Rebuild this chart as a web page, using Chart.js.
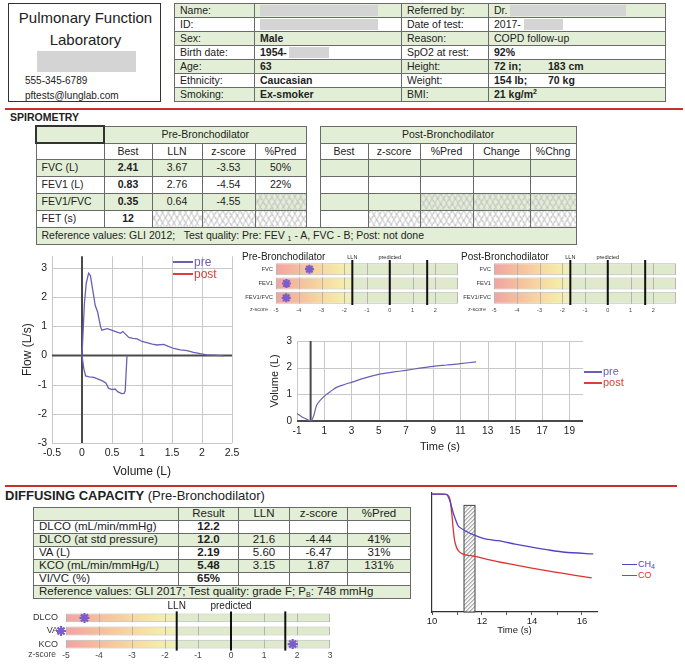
<!DOCTYPE html>
<html>
<head>
<meta charset="utf-8">
<title>Pulmonary Function Report</title>
<script src="https://cdn.jsdelivr.net/npm/chart.js@4.4.1/dist/chart.umd.min.js"></script>
<style>
  html, body { margin: 0; padding: 0; background: #fff; }
  body { font-family: 'Liberation Sans', Arial, sans-serif; color: #222; }
  #page { position: relative; width: 685px; height: 664px; overflow: hidden; }
  .abs { position: absolute; white-space: nowrap; }
  canvas { position: absolute; }
  table.t { position: absolute; border-collapse: collapse; table-layout: fixed; }
  table.t td { border: 1px solid #6a6a6a; padding: 0 0 0 5px; white-space: nowrap; overflow: hidden; line-height: 1; }
  table.t td.c { text-align: center; padding: 0; }
  table.t tr.g td { background-color: #e2efd6; }
  table.t td.gap { border: none; background-color: #fff !important; }
  table.t td.corner { border: 2px solid #333; }
  table.t td.x {
    background-image: repeating-linear-gradient(60deg, #c2c2c2 0 1px, transparent 1px 5px),
                      repeating-linear-gradient(-60deg, #c2c2c2 0 1px, transparent 1px 5px);
  }
  .blk { display: inline-block; height: 11px; background: #d4d4d4; vertical-align: middle; }
  sup { font-size: 7px; line-height: 0; vertical-align: 4px; }
  sub { font-size: 7px; line-height: 0; vertical-align: -2px; }
  .redline { position: absolute; height: 2px; background: #c8302c; }
  .leg div { display: flex; align-items: center; }
  .leg .ln { display: inline-block; height: 2px; margin-right: 1px; }
</style>
</head>
<body>
<div id="page">

  <!-- lab box -->
  <div class="abs" style="left:8px;top:3px;width:151px;height:97px;border:1.5px solid #333;"></div>
  <div class="abs" style="left:8px;width:155px;text-align:center;top:9px;font-size:15px;">Pulmonary Function</div>
  <div class="abs" style="left:8px;width:155px;text-align:center;top:31px;font-size:15px;">Laboratory</div>
  <div class="abs" style="left:37px;top:51px;width:99px;height:21px;background:#d4d4d4;"></div>
  <div class="abs" style="left:25px;top:75px;font-size:10px;">555-345-6789</div>
  <div class="abs" style="left:25px;top:90px;font-size:10px;">pftests@lunglab.com</div>

  <!-- patient table -->
  <table class="t" style="left:174px;top:3px;width:491px;font-size:10.5px;border:1.5px solid #333;">
    <colgroup><col style="width:80px"><col style="width:147px"><col style="width:87px"><col style="width:177px"></colgroup>
    <tr class="g" style="height:14px"><td>Name:</td><td><span class="blk" style="width:118px"></span></td><td>Referred by:</td><td>Dr. <span class="blk" style="width:116px"></span></td></tr>
    <tr style="height:14px"><td>ID:</td><td><span class="blk" style="width:118px"></span></td><td>Date of test:</td><td>2017-<span class="blk" style="width:39px;margin-left:3px"></span></td></tr>
    <tr class="g" style="height:14px"><td>Sex:</td><td><b>Male</b></td><td>Reason:</td><td>COPD follow-up</td></tr>
    <tr style="height:14px"><td>Birth date:</td><td><b>1954-</b><span class="blk" style="width:40px;margin-left:2px"></span></td><td>SpO2 at rest:</td><td><b>92%</b></td></tr>
    <tr class="g" style="height:14px"><td>Age:</td><td><b>63</b></td><td>Height:</td><td><b><span style="display:inline-block;width:54px">72 in;</span>183 cm</b></td></tr>
    <tr style="height:14px"><td>Ethnicity:</td><td><b>Caucasian</b></td><td>Weight:</td><td><b><span style="display:inline-block;width:54px">154 lb;</span>70 kg</b></td></tr>
    <tr class="g" style="height:14px"><td>Smoking:</td><td><b>Ex-smoker</b></td><td>BMI:</td><td><b>21 kg/m<sup>2</sup></b></td></tr>
  </table>

  <div class="redline" style="left:5px;top:108px;width:678px;"></div>

  <!-- spirometry -->
  <div class="abs" style="left:10px;top:111px;font-size:10.5px;font-weight:bold;">SPIROMETRY</div>
  <table class="t" style="left:35px;top:125px;width:540px;font-size:10.5px;">
    <colgroup><col style="width:68px"><col style="width:48px"><col style="width:50px"><col style="width:53px"><col style="width:51px"><col style="width:14px"><col style="width:48px"><col style="width:52px"><col style="width:53px"><col style="width:57px"><col style="width:46px"></colgroup>
    <tr class="g" style="height:17px"><td class="corner"></td><td class="c" colspan="4">Pre-Bronchodilator</td><td class="gap"></td><td class="c" colspan="5">Post-Bronchodilator</td></tr>
    <tr style="height:16px"><td></td><td class="c">Best</td><td class="c">LLN</td><td class="c">z-score</td><td class="c">%Pred</td><td class="gap"></td><td class="c">Best</td><td class="c">z-score</td><td class="c">%Pred</td><td class="c">Change</td><td class="c">%Chng</td></tr>
    <tr class="g" style="height:17px"><td>FVC (L)</td><td class="c"><b>2.41</b></td><td class="c">3.67</td><td class="c">-3.53</td><td class="c">50%</td><td class="gap"></td><td></td><td></td><td></td><td></td><td></td></tr>
    <tr style="height:17px"><td>FEV1 (L)</td><td class="c"><b>0.83</b></td><td class="c">2.76</td><td class="c">-4.54</td><td class="c">22%</td><td class="gap"></td><td></td><td></td><td></td><td></td><td></td></tr>
    <tr class="g" style="height:17px"><td>FEV1/FVC</td><td class="c"><b>0.35</b></td><td class="c">0.64</td><td class="c">-4.55</td><td class="x"></td><td class="gap"></td><td></td><td></td><td class="x"></td><td class="x"></td><td class="x"></td></tr>
    <tr style="height:17px"><td>FET (s)</td><td class="c"><b>12</b></td><td class="x"></td><td class="x"></td><td class="x"></td><td class="gap"></td><td></td><td class="x"></td><td class="x"></td><td class="x"></td><td class="x"></td></tr>
    <tr class="g" style="height:17px"><td colspan="11">Reference values: GLI 2012;&nbsp;&nbsp; Test quality: Pre: FEV <sub>1</sub> - A, FVC - B; Post: not done</td></tr>
  </table>

  <!-- flow-volume -->
  <canvas id="fvChart" width="280" height="240" style="left:0;top:245px;"></canvas>
  <div class="abs leg" style="left:173px;top:256px;font-size:12px;line-height:12px;">
    <div><span class="ln" style="width:20px;background:#6b5fb5"></span><span style="color:#6b5fb5">pre</span></div>
    <div><span class="ln" style="width:20px;background:#d9403a"></span><span style="color:#d9403a">post</span></div>
  </div>

  <!-- z-score bars, spirometry -->
  <div class="abs" style="left:242px;top:251px;font-size:10px;">Pre-Bronchodilator</div>
  <div class="abs" style="left:461px;top:251px;font-size:10px;">Post-Bronchodilator</div>
  <canvas id="zPre" width="225" height="70" style="left:240px;top:248px;"></canvas>
  <canvas id="zPost" width="225" height="70" style="left:458px;top:248px;"></canvas>

  <!-- volume-time -->
  <canvas id="vtChart" width="330" height="125" style="left:262px;top:330px;"></canvas>
  <div class="abs leg" style="left:584px;top:366px;font-size:11px;line-height:11px;">
    <div><span class="ln" style="width:18px;background:#6b5fb5"></span><span style="color:#6b5fb5">pre</span></div>
    <div><span class="ln" style="width:18px;background:#d9403a"></span><span style="color:#d9403a">post</span></div>
  </div>

  <div class="redline" style="left:5px;top:485px;width:672px;"></div>

  <!-- diffusing capacity -->
  <div class="abs" style="left:5px;top:488px;font-size:13px;"><b>DIFFUSING CAPACITY</b> (Pre-Bronchodilator)</div>
  <table class="t" style="left:33px;top:507px;width:377px;font-size:11.5px;border:1.5px solid #333;">
    <colgroup><col style="width:145px"><col style="width:60px"><col style="width:51px"><col style="width:58px"><col style="width:63px"></colgroup>
    <tr class="g" style="height:13px"><td></td><td class="c">Result</td><td class="c">LLN</td><td class="c">z-score</td><td class="c">%Pred</td></tr>
    <tr style="height:13px"><td>DLCO (mL/min/mmHg)</td><td class="c"><b>12.2</b></td><td></td><td></td><td></td></tr>
    <tr class="g" style="height:13px"><td>DLCO (at std pressure)</td><td class="c"><b>12.0</b></td><td class="c">21.6</td><td class="c">-4.44</td><td class="c">41%</td></tr>
    <tr style="height:13px"><td>VA (L)</td><td class="c"><b>2.19</b></td><td class="c">5.60</td><td class="c">-6.47</td><td class="c">31%</td></tr>
    <tr class="g" style="height:13px"><td>KCO (mL/min/mmHg/L)</td><td class="c"><b>5.48</b></td><td class="c">3.15</td><td class="c">1.87</td><td class="c">131%</td></tr>
    <tr style="height:13px"><td>VI/VC (%)</td><td class="c"><b>65%</b></td><td></td><td></td><td></td></tr>
    <tr class="g" style="height:13px"><td colspan="5">Reference values: GLI 2017; Test quality: grade F; P<sub>B</sub>: 748 mmHg</td></tr>
  </table>
  <canvas id="zDlco" width="345" height="66" style="left:0;top:598px;"></canvas>

  <!-- gas washout -->
  <canvas id="gasChart" width="185" height="148" style="left:420px;top:488px;"></canvas>
  <div class="abs leg" style="left:622px;top:559px;font-size:9px;line-height:11px;">
    <div><span class="ln" style="width:15px;height:1.5px;background:#4f45c2"></span><span style="color:#4f45c2">CH<sub>4</sub></span></div>
    <div><span class="ln" style="width:15px;height:1.5px;background:#dc3232"></span><span style="color:#dc3232">CO</span></div>
  </div>
</div>

<script>
// flow-volume loop, pre-bronchodilator
var expVolume = [0, 0.04, 0.07, 0.11, 0.14, 0.18, 0.22, 0.26, 0.31, 0.33, 0.42, 0.47, 0.56, 0.64, 0.68, 0.72, 0.78, 0.85, 0.92, 1.0, 1.08, 1.17, 1.25, 1.36, 1.44, 1.53, 1.64, 1.75, 1.86, 1.97, 2.08, 2.19, 2.36];
var expFlow   = [0, 1.78, 2.46, 2.82, 2.74, 2.23, 1.72, 1.49, 0.98, 0.87, 0.92, 0.89, 0.82, 0.76, 0.82, 0.74, 0.62, 0.59, 0.57, 0.48, 0.44, 0.39, 0.36, 0.38, 0.31, 0.24, 0.19, 0.17, 0.11, 0.06, 0.02, 0.01, -0.01];
var inspVolume = [0, 0.03, 0.06, 0.12, 0.2, 0.28, 0.35, 0.4, 0.44, 0.5, 0.55, 0.6, 0.66, 0.7, 0.72, 0.735, 0.75];
var inspFlow   = [0, -0.45, -0.7, -0.73, -0.75, -0.82, -0.88, -0.95, -1.12, -1.17, -1.15, -1.25, -1.31, -1.3, -1.22, -0.6, 0];

// volume-time, pre-bronchodilator
var vtTime   = [-1, -0.66, -0.29, -0.1, 0.05, 0.24, 0.44, 0.7, 1.05, 1.5, 1.9, 2.5, 3.05, 4, 5, 6, 7, 8, 9, 10, 11, 12.15];
var vtVolume = [0.28, 0.16, 0.07, 0.02, 0.0, 0.22, 0.59, 0.77, 0.95, 1.12, 1.26, 1.37, 1.46, 1.62, 1.75, 1.83, 1.9, 1.98, 2.05, 2.1, 2.15, 2.22];
var vtTicks  = [-1, 0, 1, 3, 5, 7, 9, 11, 13, 15, 17, 19];

// z-scores
var spiroLabels = ['FVC', 'FEV1', 'FEV1/FVC'];
var spiroZPre = [-3.53, -4.54, -4.55];
var spiroZPost = [];
var dlcoLabels = ['DLCO', 'VA', 'KCO'];
var dlcoZ = [-4.44, -6.47, 1.87];
var zRange = [-5, 3];
var refLines = [-1.645, 0, 1.645];
var refNames = ['LLN', 'predicted'];

// single-breath gas traces (fraction of inspired)
var ch4Time = [10, 10.3, 10.59, 10.72, 10.85, 11.05, 11.32, 11.72, 12.12, 12.65, 13.32, 13.99, 14.65, 15.32, 16.45];
var ch4Frac = [1.0, 1.0, 0.997, 0.94, 0.84, 0.73, 0.69, 0.65, 0.62, 0.605, 0.577, 0.55, 0.527, 0.507, 0.493];
var coTime  = [10, 10.3, 10.62, 10.72, 10.79, 10.85, 10.92, 11.05, 11.25, 11.72, 12.25, 13.05, 13.99, 14.92, 15.72, 16.39];
var coFrac  = [1.0, 1.0, 0.995, 0.955, 0.84, 0.70, 0.59, 0.52, 0.49, 0.473, 0.445, 0.41, 0.372, 0.339, 0.311, 0.29];
var sampleWindow = [11.28, 11.72];
var sampleTop = 0.905;

var preColor = '#6b5fb5';
var postColor = '#d9403a';
var starColor = '#7a5ccc';
var gridColor = '#c8c8c8';

Chart.defaults.font.family = "'Liberation Sans', Arial, sans-serif";
Chart.defaults.color = '#222';

function xy(xs, ys) {
  return xs.map(function (v, i) { return { x: v, y: ys[i] }; });
}

// light grid with a darker line at zero, drawn under the curves
function gridWithZero(dark) {
  return {
    id: 'gridWithZero',
    beforeDatasetsDraw: function (chart) {
      var c = chart.ctx, area = chart.chartArea;
      var xs = chart.scales.x, ys = chart.scales.y;
      c.save();
      c.lineWidth = 1;
      c.strokeStyle = gridColor;
      xs.ticks.forEach(function (t) {
        if (t.value === 0) return;
        var px = Math.round(xs.getPixelForValue(t.value)) + 0.5;
        c.beginPath(); c.moveTo(px, area.top); c.lineTo(px, area.bottom); c.stroke();
      });
      ys.ticks.forEach(function (t) {
        if (t.value === 0) return;
        var py = Math.round(ys.getPixelForValue(t.value)) + 0.5;
        c.beginPath(); c.moveTo(area.left, py); c.lineTo(area.right, py); c.stroke();
      });
      c.lineWidth = 2;
      c.strokeStyle = dark;
      var zx = xs.getPixelForValue(0), zy = ys.getPixelForValue(0);
      c.beginPath(); c.moveTo(zx, area.top); c.lineTo(zx, area.bottom); c.stroke();
      c.beginPath(); c.moveTo(area.left, zy); c.lineTo(area.right, zy); c.stroke();
      c.restore();
    }
  };
}

// ---------- flow-volume ----------
new Chart(document.getElementById('fvChart'), {
  type: 'scatter',
  data: {
    datasets: [
      { label: 'pre', data: xy(expVolume, expFlow), showLine: true, borderColor: preColor, borderWidth: 1.3, pointRadius: 0 },
      { label: 'pre', data: xy(inspVolume, inspFlow), showLine: true, borderColor: preColor, borderWidth: 1.3, pointRadius: 0 },
      { label: 'post', data: [], showLine: true, borderColor: postColor, pointRadius: 0 }
    ]
  },
  options: {
    responsive: false,
    animation: false,
    layout: { padding: { left: 16, right: 48, top: 10, bottom: 0 } },
    plugins: { legend: { display: false }, tooltip: { enabled: false } },
    scales: {
      x: {
        type: 'linear', min: -0.5, max: 2.5,
        ticks: { stepSize: 0.5, font: { size: 10.5 }, padding: 4, maxRotation: 0, callback: function (v) { return String(v); } },
        grid: { display: false, drawTicks: false },
        border: { display: false },
        title: { display: true, text: 'Volume (L)', font: { size: 12 }, padding: { top: 0, bottom: 6 } },
        afterFit: function (s) { s.height = 42; }
      },
      y: {
        min: -3, max: 3.4,
        ticks: { stepSize: 1, includeBounds: false, font: { size: 10.5 }, padding: 5, callback: function (v) { return String(v); } },
        grid: { display: false, drawTicks: false },
        border: { display: false },
        title: { display: true, text: 'Flow (L/s)', font: { size: 12 }, padding: { top: 4, bottom: 0 } },
        afterFit: function (s) { s.width = 36; }
      }
    }
  },
  plugins: [gridWithZero('#4a4a4a')]
});

// ---------- z-score bars ----------
var zStopAt = [-5, -4, -3, -2.2, -1.66, -1.64, 3];
var zStopColor = ['#f2a3a3', '#f6bd9c', '#f7d8a0', '#f5eba6', '#eef0bc', '#dfeacd', '#dfeacd'];

function zFill(ctx) {
  var chart = ctx.chart, x = chart.scales.x;
  if (!chart.chartArea || !x) return '#dfeacd';
  var x0 = x.getPixelForValue(zRange[0]), x1 = x.getPixelForValue(zRange[1]);
  var g = chart.ctx.createLinearGradient(x0, 0, x1, 0);
  zStopAt.forEach(function (z, i) {
    g.addColorStop((z - zRange[0]) / (zRange[1] - zRange[0]), zStopColor[i]);
  });
  return g;
}

var zMarks = {
  id: 'zMarks',
  afterDatasetDraw: function (chart, args, opts) {
    if (args.meta.type !== 'bar') return;
    var c = chart.ctx, x = chart.scales.x, area = chart.chartArea;
    c.save();
    c.strokeStyle = '#b4b4b4';
    c.lineWidth = 1;
    args.meta.data.forEach(function (bar) {
      var p = bar.getProps(['y', 'height'], true);
      for (var z = zRange[0] + 1; z < zRange[1]; z++) {
        var px = Math.round(x.getPixelForValue(z)) + 0.5;
        c.beginPath();
        c.moveTo(px, p.y - p.height / 2);
        c.lineTo(px, p.y + p.height / 2);
        c.stroke();
      }
    });
    c.strokeStyle = '#111';
    c.lineWidth = opts.lineWidth;
    refLines.forEach(function (v) {
      var px = x.getPixelForValue(v);
      c.beginPath();
      c.moveTo(px, area.top - opts.lineOver);
      c.lineTo(px, area.bottom);
      c.stroke();
    });
    c.fillStyle = '#222';
    c.font = opts.refSize + "px 'Liberation Sans', Arial, sans-serif";
    c.textAlign = 'center';
    c.textBaseline = 'bottom';
    refNames.forEach(function (t, i) {
      c.fillText(t, x.getPixelForValue(refLines[i]), area.top - opts.lineOver);
    });
    c.font = opts.tickSize + "px 'Liberation Sans', Arial, sans-serif";
    c.textAlign = 'right';
    c.textBaseline = 'top';
    c.fillStyle = '#444';
    c.fillText('z-score', area.left - opts.captionGap, area.bottom + opts.tickPad);
    c.restore();
  }
};

function makeZChart(id, labels, zValues, o) {
  var stars = [];
  zValues.forEach(function (z, i) {
    stars.push({ x: Math.max(z, o.clampMin), y: labels[i] });
  });
  return new Chart(document.getElementById(id), {
    type: 'bar',
    data: {
      labels: labels,
      datasets: [
        { type: 'scatter', data: stars, pointStyle: 'star', pointRadius: o.star, borderColor: starColor, borderWidth: 2.2, clip: false, order: 1 },
        { type: 'bar', data: labels.map(function () { return zRange.slice(); }), backgroundColor: zFill,
          borderColor: '#b8b8b8', borderWidth: 1, borderSkipped: false, barPercentage: o.barPct, categoryPercentage: 1, order: 2 }
      ]
    },
    options: {
      indexAxis: 'y',
      responsive: false,
      animation: false,
      layout: { padding: { left: 0, right: o.padRight, top: o.padTop, bottom: 0 } },
      plugins: {
        legend: { display: false },
        tooltip: { enabled: false },
        zMarks: { lineWidth: o.lineWidth, lineOver: o.lineOver, refSize: o.refSize, tickSize: o.tickSize, tickPad: o.tickPad, captionGap: o.captionGap }
      },
      scales: {
        x: {
          type: 'linear', min: zRange[0], max: zRange[1],
          grid: { display: false, drawTicks: false },
          border: { display: false },
          ticks: { stepSize: 1, font: { size: o.tickSize }, color: '#444', padding: o.tickPad, maxRotation: 0, autoSkip: false,
                   callback: function (v) { return v <= o.lastTick ? String(v) : ''; } },
          afterFit: function (s) { s.height = o.xHeight; }
        },
        y: {
          type: 'category',
          grid: { display: false, drawTicks: false },
          border: { display: false },
          ticks: { font: { size: o.labelSize }, color: '#333', padding: o.labelPad },
          afterFit: function (s) { s.width = o.yWidth; }
        }
      }
    },
    plugins: [zMarks]
  });
}

var spiroZOpts = { padRight: 7, padTop: 14, yWidth: 36, xHeight: 13, barPct: 0.84, tickSize: 5.5, tickPad: 2, labelSize: 5.8, labelPad: 3,
                   refSize: 5.5, lineOver: 2, lineWidth: 2, captionGap: 8, star: 4.5, clampMin: -5.2, lastTick: 2 };
makeZChart('zPre', spiroLabels, spiroZPre, spiroZOpts);
makeZChart('zPost', spiroLabels, spiroZPost, spiroZOpts);
makeZChart('zDlco', dlcoLabels, dlcoZ, { padRight: 15, padTop: 12, yWidth: 66, xHeight: 9, barPct: 0.67, tickSize: 8.5, tickPad: 0,
                   labelSize: 9, labelPad: 8, refSize: 10, lineOver: 0, lineWidth: 2, captionGap: 10, star: 5, clampMin: -5.15, lastTick: 3 });

// ---------- volume-time ----------
new Chart(document.getElementById('vtChart'), {
  type: 'scatter',
  data: {
    datasets: [
      { label: 'pre', data: xy(vtTime, vtVolume), showLine: true, tension: 0.3, borderColor: preColor, borderWidth: 1.2, pointRadius: 0 },
      { label: 'post', data: [], showLine: true, borderColor: postColor, pointRadius: 0 }
    ]
  },
  options: {
    responsive: false,
    animation: false,
    layout: { padding: { left: 2, right: 9, top: 9, bottom: 0 } },
    plugins: { legend: { display: false }, tooltip: { enabled: false } },
    scales: {
      x: {
        type: 'linear', min: -1, max: 20,
        afterBuildTicks: function (s) { s.ticks = vtTicks.map(function (v) { return { value: v }; }); },
        ticks: { font: { size: 10 }, padding: 4, maxRotation: 0, autoSkip: false,
                 callback: function (v) { return v === 0 ? '' : String(v); } },
        grid: { display: false, drawTicks: false },
        border: { display: false },
        title: { display: true, text: 'Time (s)', font: { size: 11 }, padding: { top: 0, bottom: 1 } },
        afterFit: function (s) { s.height = 34; }
      },
      y: {
        min: 0, max: 3,
        ticks: { stepSize: 0.5, font: { size: 10 }, padding: 5,
                 callback: function (v) { return v % 1 === 0 ? String(v) : ''; } },
        grid: { display: false, drawTicks: false },
        border: { display: false },
        title: { display: true, text: 'Volume (L)', font: { size: 11 }, padding: { top: 4, bottom: 0 } },
        afterFit: function (s) { s.width = 33; }
      }
    }
  },
  plugins: [gridWithZero('#4a4a4a')]
});

// ---------- gas traces with sampling window ----------
var hatchWindow = {
  id: 'hatchWindow',
  beforeDatasetsDraw: function (chart) {
    var c = chart.ctx, x = chart.scales.x, y = chart.scales.y;
    var x0 = x.getPixelForValue(sampleWindow[0]), x1 = x.getPixelForValue(sampleWindow[1]);
    var y0 = y.getPixelForValue(sampleTop), y1 = y.getPixelForValue(0);
    var w = x1 - x0, h = y1 - y0;
    c.save();
    c.fillStyle = '#f6f6f6';
    c.fillRect(x0, y0, w, h);
    c.beginPath();
    c.rect(x0, y0, w, h);
    c.clip();
    c.strokeStyle = '#777';
    c.lineWidth = 0.9;
    for (var k = -h; k < w; k += 4) {
      c.beginPath();
      c.moveTo(x0 + k, y1);
      c.lineTo(x0 + k + h, y0);
      c.stroke();
    }
    c.restore();
    c.save();
    c.strokeStyle = '#444';
    c.lineWidth = 1;
    c.strokeRect(x0, y0, w, h);
    c.restore();
  }
};

new Chart(document.getElementById('gasChart'), {
  type: 'scatter',
  data: {
    datasets: [
      { label: 'CH4', data: xy(ch4Time, ch4Frac), showLine: true, tension: 0.2, borderColor: '#4f45c2', borderWidth: 1.3, pointRadius: 0 },
      { label: 'CO', data: xy(coTime, coFrac), showLine: true, tension: 0.2, borderColor: '#dc3232', borderWidth: 1.3, pointRadius: 0 }
    ]
  },
  options: {
    responsive: false,
    animation: false,
    layout: { padding: { left: 12, right: 8, top: 5, bottom: 0 } },
    plugins: { legend: { display: false }, tooltip: { enabled: false } },
    scales: {
      x: {
        type: 'linear', min: 10, max: 16.6,
        ticks: { stepSize: 1, includeBounds: false, font: { size: 9.5 }, padding: 1, maxRotation: 0, autoSkip: false,
                 callback: function (v) { return v % 2 === 0 ? String(v) : ''; } },
        grid: { drawOnChartArea: false, tickLength: 3, color: '#555' },
        border: { display: true, color: '#333', width: 1.2 },
        title: { display: true, text: 'Time (s)', font: { size: 9.5 }, padding: 0 },
        afterFit: function (s) { s.height = 24; }
      },
      y: {
        min: 0, max: 1.01,
        ticks: { display: false },
        grid: { display: false, drawTicks: false },
        border: { display: true, color: '#333', width: 1.2 },
        afterFit: function (s) { s.width = 0; }
      }
    }
  },
  plugins: [hatchWindow]
});
</script>
</body>
</html>
